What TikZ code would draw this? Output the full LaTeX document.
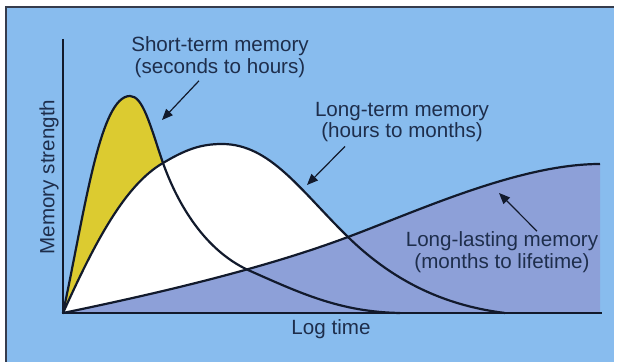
\documentclass[tikz,border=0pt]{standalone}
\usepackage{fontspec}
\setmainfont{Liberation Sans}
\usetikzlibrary{arrows.meta, calc}
\definecolor{skyback}{HTML}{88BCEE}
\definecolor{lastfill}{HTML}{8DA0D8}
\definecolor{shortfill}{HTML}{DCCB30}
\definecolor{inkline}{HTML}{121A2C}
\definecolor{inktext}{HTML}{1E2E4C}

% curve bodies, one unit = one pixel
\newcommand{\shortcurve}{(63,313) .. controls (85,210) and (100,96) .. (130,96)
  .. controls (143,96) and (150,125) .. (163,163)
  .. controls (178,205) and (205,250) .. (248,270)
  .. controls (300,293) and (340,312) .. (400,313)}
\newcommand{\longcurve}{(63,313) .. controls (95,242) and (125,185) .. (163,163)
  .. controls (185,150) and (200,144) .. (222,144)
  .. controls (270,144) and (300,190) .. (348,237)
  .. controls (390,278) and (440,305) .. (505,313)}
\newcommand{\lastcurve}{(63,313) .. controls (150,295) and (260,270) .. (348,237)
  .. controls (420,210) and (520,164) .. (600,164)}

\begin{document}
\begin{tikzpicture}[
  x=0.5pt, y=-0.5pt,
  font=\fontsize{10.3}{10.8}\selectfont,
  curve/.style={draw=inkline, line width=1.1pt},
  axis/.style={draw=inkline, line width=1pt, line join=miter},
  pointer/.style={-{Triangle[length=5.5pt, width=4.5pt]}, draw=inkline, line width=0.6pt},
  caption/.style={text=inktext, align=center, inner sep=0pt},
]
\useasboundingbox (0,0) rectangle (617,362);

% ---- backdrop ----
\fill[white] (0,0) rectangle (617,362);
\fill[skyback] (6,7) rectangle (614,362);
\draw[inkline!85, line width=0.8pt] (6,362) -- (6,7) -- (614,7);

% ---- filled areas, back to front ----
\fill[shortfill] \shortcurve -- cycle;
\fill[white] \longcurve -- cycle;
\fill[lastfill] \lastcurve -- (600,313) -- cycle;

% ---- curves ----
\draw[curve] \shortcurve;
\draw[curve] \longcurve;
\draw[curve] \lastcurve;

% ---- axes ----
\coordinate (o) at (63,313);
\coordinate (ytop) at (63,39);
\coordinate (xend) at (602,313);
\draw[axis] (ytop) -- (o) -- (xend);
\node[caption, rotate=90] (ylabel) at (49,177) {Memory strength};
\node[caption] (xlabel) at (331,329) {Log time};

% ---- labels and pointers ----
\node[caption] (stlabel) at (220,57) {Short-term memory\\(seconds to hours)};
\coordinate (sttip) at (162,120);
\draw[pointer] ($(stlabel.south)+(-21,3)$) -- (sttip);

\node[caption] (ltlabel) at (402,122) {Long-term memory\\(hours to months)};
\coordinate (lttip) at (307,185);
\draw[pointer] ($(ltlabel.south)+(-57,4)$) -- (lttip);

\node[caption] (lllabel) at (502,252) {Long-lasting memory\\(months to lifetime)};
\coordinate (lltip) at (499,193);
\draw[pointer] ($(lllabel.north)+(35,0)$) -- (lltip);

\end{tikzpicture}
\end{document}
